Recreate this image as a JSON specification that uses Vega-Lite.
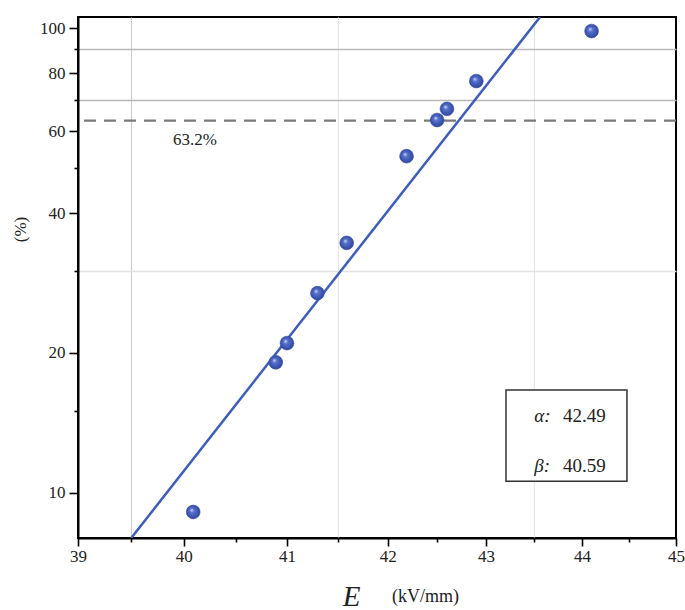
{
  "$schema": "https://vega.github.io/schema/vega-lite/v6.json",
  "autosize": "none",
  "width": 598,
  "height": 521,
  "padding": {"left": 78, "top": 17, "right": 9, "bottom": 72},
  "background": "white",
  "config": {
    "view": {"stroke": "black", "strokeWidth": 2},
    "font": "Liberation Serif"
  },
  "data": {"values": [{}]},
  "datasets": {
    "points": [
      {"E": 40.09, "F": 9.1},
      {"E": 40.89, "F": 19.1},
      {"E": 41.0, "F": 21.0},
      {"E": 41.3, "F": 26.9},
      {"E": 41.59, "F": 34.5},
      {"E": 42.19, "F": 53.0},
      {"E": 42.5, "F": 63.4},
      {"E": 42.6, "F": 67.0},
      {"E": 42.9, "F": 76.9},
      {"E": 44.1, "F": 98.5}
    ],
    "fit": [
      {"E": 39.5, "F": 8.0},
      {"E": 43.56, "F": 105.6}
    ],
    "params": [
      {"sym": "α:", "val": "42.49", "xs": 43.5, "xv": 43.8, "F": 14.64},
      {"sym": "β:", "val": "40.59", "xs": 43.5, "xv": 43.8, "F": 11.43}
    ]
  },
  "resolve": {"axis": {"x": "independent", "y": "independent"}},
  "layer": [
    {
      "mark": {"type": "rule", "color": "#7a7a7a", "strokeWidth": 2.2, "strokeDash": [12, 8]},
      "encoding": {
        "y": {"datum": 63.2, "type": "quantitative", "scale": {"type": "log", "domain": [8, 105.6], "nice": false}, "axis": null}
      }
    },
    {
      "data": {"name": "fit"},
      "mark": {"type": "line", "color": "#3d5dbd", "strokeWidth": 2.5, "clip": true},
      "encoding": {
        "x": {"field": "E", "type": "quantitative", "scale": {"type": "log", "domain": [39, 45], "nice": false},
          "axis": {"orient": "bottom", "title": "(kV/mm)", "domain": false, "ticks": false, "labels": false, "grid": false,
            "titleFont": "Liberation Serif", "titleFontSize": 18, "titleFontWeight": "normal", "titleColor": "#222",
            "titleAlign": "center", "titleBaseline": "alphabetic", "titleX": 347, "titleY": 63}},
        "y": {"field": "F", "type": "quantitative", "scale": {"type": "log", "domain": [8, 105.6], "nice": false}, "axis": null}
      }
    },
    {
      "mark": {"type": "text", "font": "Liberation Serif", "fontSize": 17, "color": "#222", "align": "center", "baseline": "middle"},
      "encoding": {
        "x": {"datum": 40.107, "type": "quantitative", "scale": {"type": "log", "domain": [39, 45], "nice": false}, "axis": null},
        "y": {"datum": 57.4, "type": "quantitative", "scale": {"type": "log", "domain": [8, 105.6], "nice": false}, "axis": null},
        "text": {"value": "63.2%"}
      }
    },
    {
      "mark": {"type": "rect", "fill": "white", "stroke": "#333333", "strokeWidth": 1.5},
      "encoding": {
        "x": {"datum": 43.206, "type": "quantitative", "scale": {"type": "log", "domain": [39, 45], "nice": false}, "axis": null},
        "x2": {"datum": 44.475},
        "y": {"datum": 16.65, "type": "quantitative", "scale": {"type": "log", "domain": [8, 105.6], "nice": false}, "axis": null},
        "y2": {"datum": 10.6}
      }
    },
    {
      "data": {"name": "params"},
      "mark": {"type": "text", "font": "Liberation Serif", "fontSize": 19, "fontStyle": "italic", "color": "#222", "align": "left", "baseline": "middle"},
      "encoding": {
        "x": {"field": "xs", "type": "quantitative", "scale": {"type": "log", "domain": [39, 45], "nice": false}, "axis": null},
        "y": {"field": "F", "type": "quantitative", "scale": {"type": "log", "domain": [8, 105.6], "nice": false}, "axis": null},
        "text": {"field": "sym"}
      }
    },
    {
      "data": {"name": "params"},
      "mark": {"type": "text", "font": "Liberation Serif", "fontSize": 19, "color": "#222", "align": "left", "baseline": "middle"},
      "encoding": {
        "x": {"field": "xv", "type": "quantitative", "scale": {"type": "log", "domain": [39, 45], "nice": false}, "axis": null},
        "y": {"field": "F", "type": "quantitative", "scale": {"type": "log", "domain": [8, 105.6], "nice": false}, "axis": null},
        "text": {"field": "val"}
      }
    },
    {
      "data": {"name": "points"},
      "mark": {"type": "point", "shape": "circle", "filled": true, "size": 190, "opacity": 1,
        "fill": {"gradient": "radial", "x1": 0.38, "y1": 0.35, "r1": 0, "x2": 0.5, "y2": 0.5, "r2": 0.55,
          "stops": [{"offset": 0, "color": "#d6def7"}, {"offset": 0.3, "color": "#5670cc"}, {"offset": 1, "color": "#2b4299"}]},
        "stroke": "#34499f", "strokeWidth": 0.6},
      "encoding": {
        "x": {"field": "E", "type": "quantitative", "scale": {"type": "log", "domain": [39, 45], "nice": false},
          "axis": {"orient": "bottom", "title": "E",
            "values": [39, 39.5, 40, 40.5, 41, 41.5, 42, 42.5, 43, 43.5, 44, 44.5, 45],
            "labelExpr": "datum.value % 1 == 0 ? format(datum.value, 'd') : ''",
            "labelFont": "Liberation Serif", "labelFontSize": 17, "labelColor": "#222", "labelPadding": 2, "labelFlush": false,
            "domainColor": "black", "domainWidth": 2,
            "tickColor": "black", "tickWidth": 1.6,
            "tickSize": {"condition": {"test": "datum.value % 1 == 0", "value": 8}, "value": 4},
            "grid": true,
            "gridOpacity": {"condition": {"test": "datum.value == 39.5 || datum.value == 41.5 || datum.value == 43.5", "value": 1}, "value": 0},
            "gridColor": {"condition": {"test": "datum.value == 39.5", "value": "#cfcfcf"}, "value": "#e6e6e6"},
            "gridWidth": 1.2,
            "titleFont": "Liberation Serif", "titleFontSize": 29, "titleFontStyle": "italic", "titleFontWeight": "normal", "titleColor": "#222",
            "titleAlign": "center", "titleBaseline": "alphabetic", "titleX": 273, "titleY": 67}},
        "y": {"field": "F", "type": "quantitative", "scale": {"type": "log", "domain": [8, 105.6], "nice": false},
          "axis": {"orient": "left", "title": "(%)",
            "values": [10, 15, 20, 30, 40, 50, 60, 70, 80, 90, 100],
            "labelExpr": "datum.value == 15 || datum.value == 30 || datum.value == 50 || datum.value == 70 || datum.value == 90 ? '' : format(datum.value, 'd')",
            "labelFont": "Liberation Serif", "labelFontSize": 17, "labelColor": "#222", "labelPadding": 4, "labelFlush": false,
            "domainColor": "black", "domainWidth": 2,
            "tickColor": "black", "tickWidth": 1.6,
            "tickSize": {"condition": {"test": "datum.value == 15 || datum.value == 30 || datum.value == 50 || datum.value == 70 || datum.value == 90", "value": 4}, "value": 9},
            "grid": true,
            "gridOpacity": {"condition": {"test": "datum.value == 30 || datum.value == 70 || datum.value == 90", "value": 1}, "value": 0},
            "gridColor": {"condition": {"test": "datum.value == 30", "value": "#e3e3e3"}, "value": "#b9b9b9"},
            "gridWidth": 1.4,
            "titleFont": "Liberation Serif", "titleFontSize": 17, "titleFontWeight": "normal", "titleColor": "#222",
            "titleAngle": -90, "titleAlign": "center", "titleBaseline": "middle", "titleX": -58, "titleY": 212}}
      }
    }
  ]
}
